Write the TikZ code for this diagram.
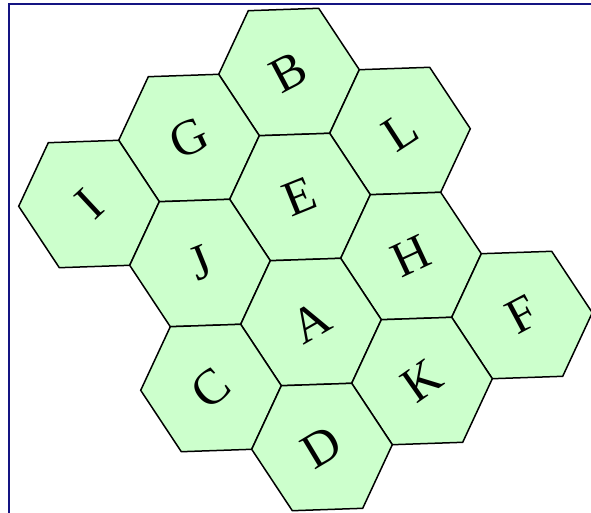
\documentclass[tikz,border=0pt]{standalone}
\usepackage{fontspec}
\setmainfont{Liberation Serif}
\definecolor{cellgreen}{RGB}{204,255,204}
\definecolor{framenavy}{RGB}{20,20,130}

\begin{document}
\begin{tikzpicture}[x=1pt, y=-1pt, cell/.style={fill=cellgreen, draw=black, line width=1.5pt}, lbl/.style={font=\fontsize{50}{50}\selectfont, inner sep=0pt}]
	\useasboundingbox (0,0) rectangle (591,513);
	\draw[framenavy, line width=2pt] (591,4) -- (9,4) -- (9,513);
	\foreach \a/\b/\cname/\rot in {-1/0/B/28, 0/-1/G/25, 1/-2/I/43, -1/1/L/33, 0/0/E/22, 1/-1/J/22, 0/1/H/25, 1/0/A/30, 2/-1/C/40, 0/2/F/28, 1/1/K/35, 2/0/D/31} {
		\coordinate (c\cname) at ({300+11*\a+111*\b},{197+125*\a+59*\b});
		\draw[cell, shift={(c\cname)}] (40.7,61.3) -- (-29.7,63.7) -- (-70.3,2.3) -- (-40.7,-61.3) -- (29.7,-63.7) -- (70.3,-2.3) -- cycle;
		\node[lbl, rotate=\rot] (n\cname) at (c\cname) {\cname};
	}
\end{tikzpicture}
\end{document}
